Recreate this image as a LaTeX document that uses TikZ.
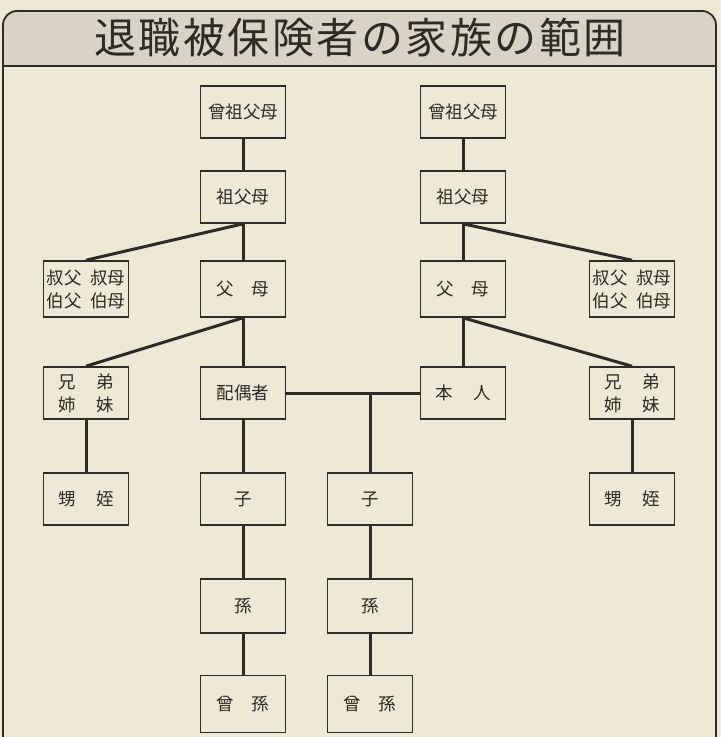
\documentclass[tikz,border=0pt]{standalone}
\usepackage{fontspec}
\setmainfont{Noto Sans CJK JP}
\definecolor{paper}{HTML}{EEE8D6}
\definecolor{band}{HTML}{D8D3C6}
\definecolor{ink}{HTML}{2E2A26}

\begin{document}
\begin{tikzpicture}[x=1pt,y=-1pt,
		person/.style = {draw=ink, line width=1.6pt, minimum width=85pt, minimum height=52pt, inner sep=0pt, align=center, text=ink, font=\fontsize{17.5}{23}\selectfont},
		tall/.style = {minimum height=56pt},
		link/.style = {draw=ink, line width=3pt},
		frame/.style = {draw=ink, line width=1.8pt}
			]
		\useasboundingbox (0,0) rectangle (721,737);
		\fill[paper] (0,0) rectangle (721,737);

		% header
		\begin{scope}
			\clip[rounded corners=14pt] (3,737) -- (3,11) -- (716,11) -- (716,737) -- cycle;
			\fill[band] (0,0) rectangle (721,66);
		\end{scope}
		\draw[frame, rounded corners=14pt] (3,737) -- (3,11) -- (716,11) -- (716,737);
		\draw[frame] (3,66) -- (716,66);
		\node[text=ink, font=\fontsize{42}{42}\selectfont\addfontfeature{LetterSpace=6}] (title) at (360,38) {退職被保険者の家族の範囲};

		% spouse side
		\node[person] (gg1) at (243,112) {曾祖父母};
		\node[person] (g1) at (243,197) {祖父母};
		\node[person,tall] (p1) at (243,289) {父\hspace{1em}母};
		\node[person,tall] (u1) at (86,289) {叔父\hspace{0.5em}叔母\\伯父\hspace{0.5em}伯母};
		\node[person] (sp) at (243,393) {配偶者};
		\node[person] (s1) at (86,393) {兄\hspace{1.2em}弟\\姉\hspace{1.2em}妹};
		\node[person] (n1) at (86,499) {甥\hspace{1.2em}姪};
		\node[person] (c1) at (243,499) {子};
		\node[person,minimum height=54pt] (gc1) at (243,606) {孫};
		\node[person,minimum height=57pt] (ggc1) at (243,704) {曾\hspace{1em}孫};

		% own side
		\node[person] (gg2) at (463,112) {曾祖父母};
		\node[person] (g2) at (463,197) {祖父母};
		\node[person,tall] (p2) at (463,289) {父\hspace{1em}母};
		\node[person,tall] (u2) at (632,289) {叔父\hspace{0.5em}叔母\\伯父\hspace{0.5em}伯母};
		\node[person] (self) at (463,393) {本\hspace{1.2em}人};
		\node[person] (s2) at (632,393) {兄\hspace{1.2em}弟\\姉\hspace{1.2em}妹};
		\node[person] (n2) at (632,499) {甥\hspace{1.2em}姪};
		\node[person] (c2) at (370,499) {子};
		\node[person,minimum height=54pt] (gc2) at (370,606) {孫};
		\node[person,minimum height=57pt] (ggc2) at (370,704) {曾\hspace{1em}孫};

		\draw[link] (gg1) -- (g1) -- (p1) -- (sp) -- (c1) -- (gc1) -- (ggc1);
		\draw[link] (g1.south) -- (u1.north);
		\draw[link] (p1.south) -- (s1.north);
		\draw[link] (s1) -- (n1);

		\draw[link] (gg2) -- (g2) -- (p2) -- (self);
		\draw[link] (g2.south) -- (u2.north);
		\draw[link] (p2.south) -- (s2.north);
		\draw[link] (s2) -- (n2);

		\draw[link] (sp) -- (self);
		\draw[link] (c2) -- (c2 |- sp.east);
		\draw[link] (c2) -- (gc2) -- (ggc2);

	\end{tikzpicture}
\end{document}
